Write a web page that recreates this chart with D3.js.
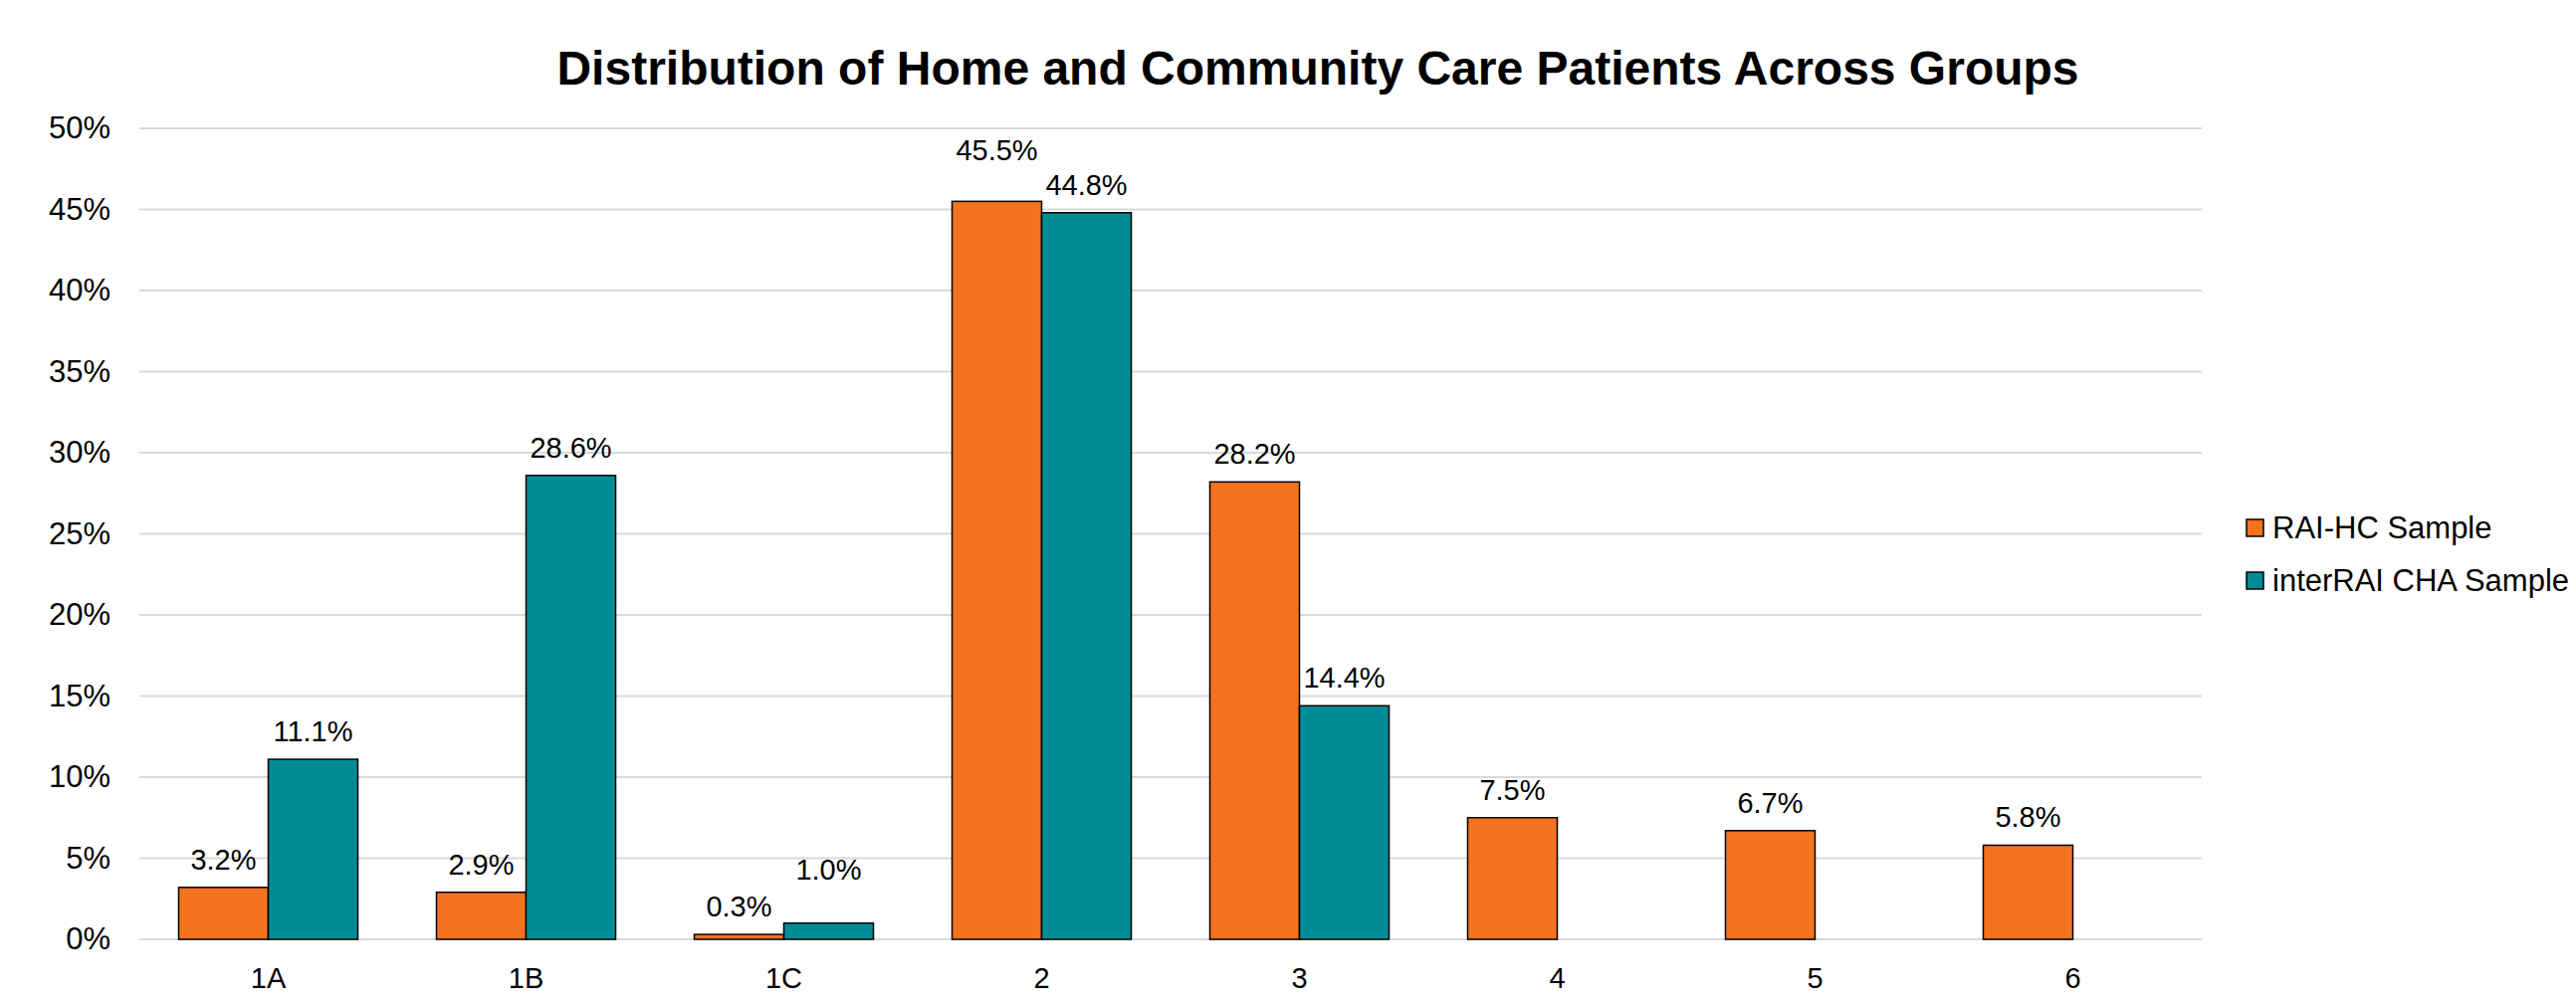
<!DOCTYPE html>
<html>
<head>
<meta charset="utf-8">
<script src="https://cdn.jsdelivr.net/npm/d3@7"></script>
<style>
  body { margin: 0; background: #fff; }
  text { font-family: "Liberation Sans", Arial, sans-serif; fill: #000; }
</style>
</head>
<body>
<div id="chart"></div>
<script>
var groups = ["1A", "1B", "1C", "2", "3", "4", "5", "6"];
var seriesNames = ["RAI-HC Sample", "interRAI CHA Sample"];
var raiHC = [0.032, 0.029, 0.003, 0.455, 0.282, 0.075, 0.067, 0.058];
var interRAI = [0.111, 0.286, 0.010, 0.448, 0.144, null, null, null];
var yTicks = [0, 0.05, 0.10, 0.15, 0.20, 0.25, 0.30, 0.35, 0.40, 0.45, 0.50];
var colors = ["#f37321", "#008c96"];
// extra lift for the labels that were moved by hand in the original
var labelLift = [[0, 0, 0, 23, 0, 0, 0, 0], [0, 0, 26, 0, 0, 0, 0, 0]];

var W = 2588, H = 1007;
var margin = { top: 129, bottom: 63, left: 140, right: 376 },
  width = W - margin.left - margin.right,
  height = H - margin.top - margin.bottom;

var svg = d3.select("#chart")
  .append("svg")
  .attr("width", W)
  .attr("height", H);

svg.append("text")
  .attr("x", 1324)
  .attr("y", 85)
  .attr("text-anchor", "middle")
  .style("font-weight", "bold")
  .style("font-size", "48px")
  .text("Distribution of Home and Community Care Patients Across Groups");

var g = svg.append("g")
  .attr("transform", "translate(" + margin.left + "," + margin.top + ")");

var x = d3.scaleBand()
  .domain(groups)
  .range([0, width])
  .paddingInner(0.305)
  .paddingOuter(0.1525);

var x1 = d3.scaleBand()
  .domain([0, 1])
  .range([0, x.bandwidth()]);

var y = d3.scaleLinear()
  .domain([0, 0.5])
  .range([height, 0]);

// gridlines
g.append("g")
  .selectAll("line")
  .data(yTicks)
  .enter()
  .append("line")
  .attr("x1", 0)
  .attr("x2", width)
  .attr("y1", function(d) { return y(d) })
  .attr("y2", function(d) { return y(d) })
  .attr("stroke", "#d9d9d9")
  .attr("stroke-width", 2);

var yAxis = g.append("g")
  .call(d3.axisLeft(y).tickValues(yTicks).tickFormat(d3.format(".0%")).tickSize(0).tickPadding(29));
yAxis.select(".domain").remove();
yAxis.selectAll("text").style("font-size", "31px").attr("font-family", null);

var xAxis = g.append("g")
  .attr("transform", "translate(0," + height + ")")
  .call(d3.axisBottom(x).tickSize(0).tickPadding(28));
xAxis.select(".domain").remove();
xAxis.selectAll("text").style("font-size", "29px").attr("font-family", null).attr("dy", "0.71em");

var series = [raiHC, interRAI];
series.forEach(function(vals, s) {
  var rows = groups.map(function(k, i) { return { key: k, v: vals[i], i: i } })
                   .filter(function(d) { return d.v != null });
  var sg = g.append("g");
  sg.selectAll("rect")
    .data(rows)
    .enter()
    .append("rect")
    .attr("x", function(d) { return x(d.key) + x1(s) })
    .attr("y", function(d) { return y(d.v) })
    .attr("width", x1.bandwidth())
    .attr("height", function(d) { return height - y(d.v) })
    .attr("fill", colors[s])
    .attr("stroke", "#000")
    .attr("stroke-width", 1.5);
  sg.selectAll("text")
    .data(rows)
    .enter()
    .append("text")
    .attr("x", function(d) { return x(d.key) + x1(s) + x1.bandwidth() / 2 })
    .attr("y", function(d) { return y(d.v) - 18 - labelLift[s][d.i] })
    .attr("text-anchor", "middle")
    .style("font-size", "29px")
    .text(function(d) { return d3.format(".1%")(d.v) });
});

// legend
var legend = svg.append("g")
  .attr("transform", "translate(2257,522)");
seriesNames.forEach(function(name, i) {
  legend.append("rect")
    .attr("x", 0)
    .attr("y", i * 53)
    .attr("width", 17)
    .attr("height", 17)
    .attr("fill", colors[i])
    .attr("stroke", "#000")
    .attr("stroke-width", 1.5);
  legend.append("text")
    .attr("x", 26)
    .attr("y", i * 53 + 8.5)
    .attr("dy", "0.35em")
    .style("font-size", "31px")
    .text(name);
});
</script>
</body>
</html>
